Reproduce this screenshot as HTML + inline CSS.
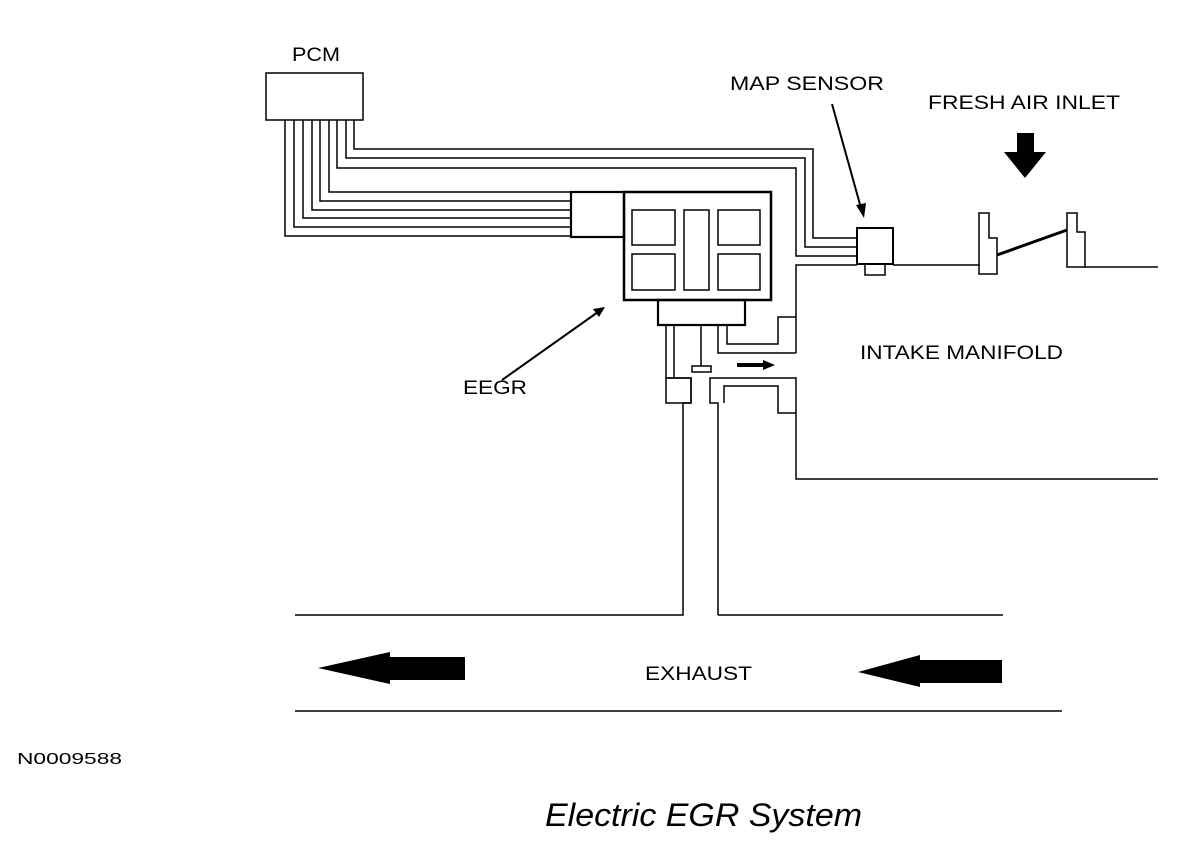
<!DOCTYPE html>
<html><head><meta charset="utf-8"><style>
html,body{margin:0;padding:0;background:#fff;}
svg{display:block;}
text{font-family:"Liberation Sans",sans-serif;fill:#000;}
</style></head><body>
<svg width="1200" height="854" viewBox="0 0 1200 854" xmlns="http://www.w3.org/2000/svg">
<g fill="none" stroke="#000" stroke-width="1.5">
<rect x="266" y="73" width="97" height="47"/>
<polyline points="285,120 285,236 571,236"/>
<polyline points="294,120 294,227 571,227"/>
<polyline points="303,120 303,218 571,218"/>
<polyline points="312,120 312,210 571,210"/>
<polyline points="320,120 320,201 571,201"/>
<polyline points="329,120 329,192 571,192"/>
<polyline points="337,120 337,168 796,168 796,256 857,256"/>
<polyline points="346,120 346,158 805,158 805,247 857,247"/>
<polyline points="354,120 354,149 813,149 813,238 857,238"/>
<rect x="571" y="192" width="53" height="45" stroke-width="2.2"/>
<rect x="624" y="192" width="147" height="108" stroke-width="2.5"/>
<rect x="632" y="210" width="43" height="35"/>
<rect x="684" y="210" width="25" height="80"/>
<rect x="718" y="210" width="42" height="35"/>
<rect x="632" y="254" width="43" height="36"/>
<rect x="718" y="254" width="42" height="36"/>
<rect x="658" y="300" width="87" height="25" stroke-width="2.2"/>
<rect x="857" y="228" width="36" height="36" stroke-width="2"/>
<rect x="865" y="264" width="20" height="11"/>
<polyline points="796,353 796,265 857,265"/>
<line x1="893" y1="265" x2="980" y2="265"/>
<line x1="1085" y1="267" x2="1158" y2="267"/>
<polygon points="979,213 989,213 989,238 997,238 997,274 979,274"/>
<polygon points="1067,213 1077,213 1077,232 1085,232 1085,267 1067,267"/>
<line x1="997" y1="255" x2="1067" y2="230" stroke-width="3"/>
<polyline points="666,325 666,378 691,378 691,403 683,403 683,615 295,615"/>
<polyline points="674,325 674,378"/>
<rect x="666" y="378" width="25" height="25"/>
<line x1="701" y1="325" x2="701" y2="366"/>
<rect x="692" y="366" width="19" height="6"/>
<polyline points="727,325 727,344 778,344 778,317 796,317"/>
<polyline points="718,325 718,353 796,353"/>
<polyline points="718,615 718,403 710,403 710,378 796,378 796,479 1158,479"/>
<polyline points="724,403 724,386 778,386 778,413 796,413"/>
<line x1="718" y1="615" x2="1003" y2="615"/>
<line x1="295" y1="711" x2="1062" y2="711"/>
</g>
<g fill="#000">
<polygon points="318,668 390,652 390,657 465,657 465,680 390,680 390,684"/>
<polygon points="858,672 920,655 920,660 1002,660 1002,683 920,683 920,687"/>
<polygon points="737,363 763,363 763,360 775,365 763,370 763,367 737,367"/>
<polygon points="1017,133 1034,133 1034,152 1046,152 1025,178 1004,152 1017,152"/>
</g>
<g stroke="#000" stroke-width="2">
<line x1="832" y1="104" x2="861" y2="208"/>
<line x1="502" y1="380" x2="598" y2="312"/>
</g>
<polygon points="864,218 856,205 866,203" fill="#000"/>
<polygon points="605,307 593,309 599,317" fill="#000"/>
<text x="292" y="61" font-size="19" textLength="48" lengthAdjust="spacingAndGlyphs">PCM</text>
<text x="730" y="90" font-size="19" textLength="154" lengthAdjust="spacingAndGlyphs">MAP SENSOR</text>
<text x="928" y="109" font-size="19" textLength="192" lengthAdjust="spacingAndGlyphs">FRESH AIR INLET</text>
<text x="860" y="359" font-size="19" textLength="203" lengthAdjust="spacingAndGlyphs">INTAKE MANIFOLD</text>
<text x="463" y="394" font-size="19" textLength="64" lengthAdjust="spacingAndGlyphs">EEGR</text>
<text x="645" y="680" font-size="19" textLength="107" lengthAdjust="spacingAndGlyphs">EXHAUST</text>
<text x="17" y="764" font-size="16" textLength="105" lengthAdjust="spacingAndGlyphs">N0009588</text>
<text x="545" y="826" font-size="32" font-style="italic" textLength="317" lengthAdjust="spacingAndGlyphs">Electric EGR System</text>
</svg>
</body></html>
